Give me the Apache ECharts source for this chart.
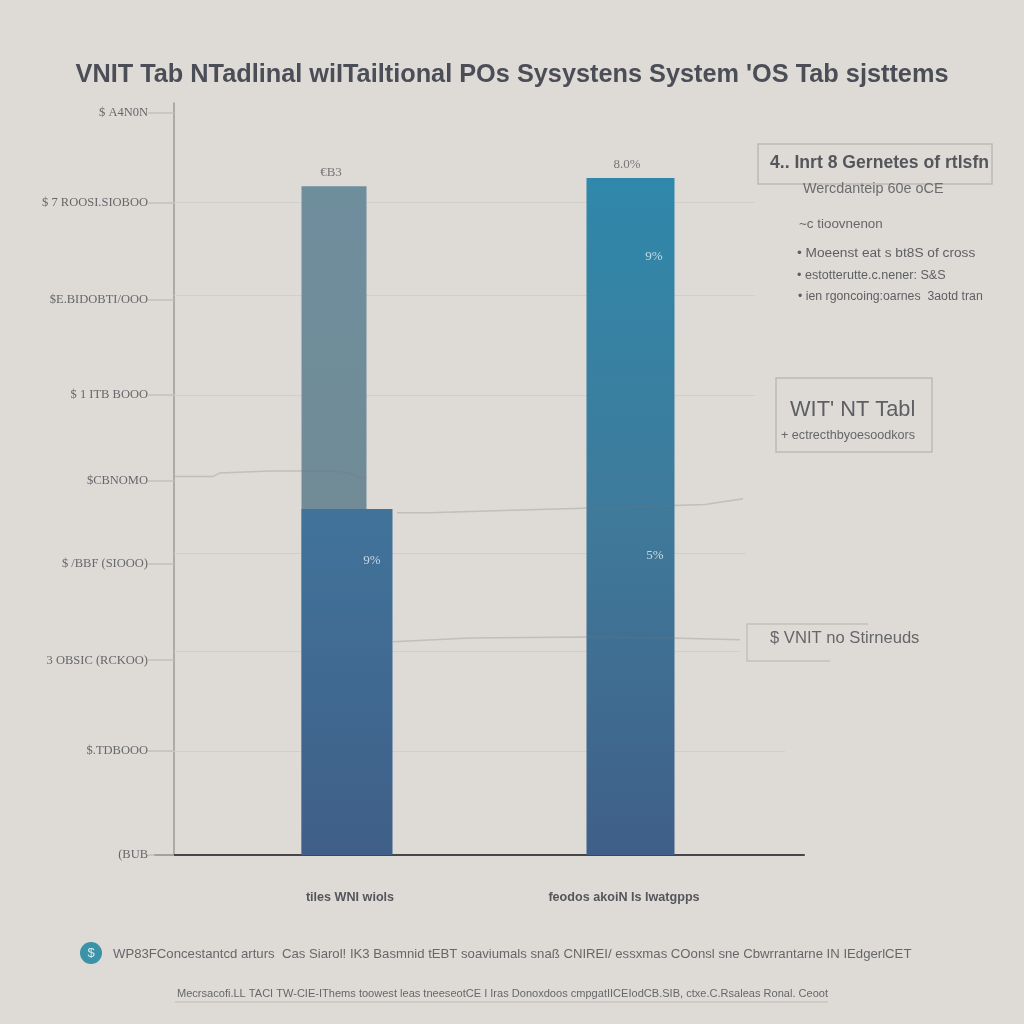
<!DOCTYPE html>
<html>
<head>
<meta charset="utf-8">
<style>html,body{margin:0;padding:0;background:#dedbd6}#c{width:1024px;height:1024px}</style>
<script src="https://cdn.jsdelivr.net/npm/echarts@6/dist/echarts.min.js"></script>
</head>
<body>
<div id="c"></div>
<script>
const chartTitle = "VNIT Tab NTadlinal wiITailtional POs Sysystens System 'OS Tab sjsttems";
const tickValues = [0, 1.12, 2.10, 3.14, 4.04, 4.96, 5.99, 7.03, 8.00];
const tickLabels = ["(BUB", "$.TDBOOO", "3 OBSIC (RCKOO)", "$ /BBF (SIOOO)", "$CBNOMO", "$ 1 ITB BOOO", "$E.BIDOBTI/OOO", "$ 7 ROOSI.SIOBOO", "$ A4N0N"];
const categoryPositions = [176, 450];
const categoryLabels = ["tiles WNI wiols", "feodos akoiN Is lwatgpps"];
const grayBar = [[173, 7.21]];
const blueBar = [[173, 3.73]];
const tealBar = [[458, 7.30]];
const gridValues = [7.04, 6.03, 4.96, 3.25, 2.20, 1.12];
const gridEnds = [581, 581, 581, 572, 566, 611];
const trendA = [[1, 4.08], [39, 4.08], [46, 4.12], [96, 4.14], [156, 4.14], [171, 4.13], [191, 4.06]];
const trendB = [[223, 3.69], [256, 3.69], [346, 3.72], [446, 3.75], [531, 3.78], [569, 3.84]];
const trendC = [[219, 2.30], [296, 2.34], [416, 2.35], [496, 2.34], [566, 2.32]];
const topNotes = [[157, 7.36, "€B3"], [453, 7.44, "8.0%"]];
const insideNotes = [[480, 6.45, "9%"], [198, 3.17, "9%"], [481, 3.23, "5%"]];

const sans = '"Liberation Sans", sans-serif';
const serif = '"Liberation Serif", serif';
const txt = (x, y, text, size, fill, weight, family, align) => ({
  type: 'text', x: x, y: y, silent: true,
  style: { text: text, fontSize: size, fill: fill, fontWeight: weight || 'normal',
    fontFamily: family || sans, textAlign: align || 'left', textVerticalAlign: 'middle' }
});
const box = (x, y, w, h) => ({
  type: 'rect', shape: { x: x, y: y, width: w, height: h }, silent: true,
  style: { fill: 'transparent', stroke: '#bcbab5', lineWidth: 1.5 }
});
const grad = (stops) => ({ type: 'linear', x: 0, y: 0, x2: 0, y2: 1,
  colorStops: stops.map((c, i) => ({ offset: i / (stops.length - 1), color: c })) });
const trend = (data) => ({
  type: 'line', data: data, symbol: 'none', z: 4, silent: true,
  lineStyle: { color: 'rgba(120,120,118,0.28)', width: 1.5 }
});

const chart = echarts.init(document.getElementById('c'), null, { renderer: 'canvas' });
chart.setOption({
  animation: false,
  backgroundColor: '#dedbd6',
  title: {
    text: chartTitle, left: 'center', top: 58,
    textStyle: { fontFamily: sans, fontSize: 25.3, fontWeight: 'bold', color: '#4b4e57' }
  },
  grid: { left: 155, right: 220, top: 103, bottom: 169 },
  xAxis: {
    type: 'value', min: -19, max: 630, splitLine: { show: false },
    axisLine: { lineStyle: { color: '#45454a', width: 2 } },
    axisTick: { show: false },
    axisLabel: {
      customValues: categoryPositions, margin: 36, fontSize: 12.6, fontWeight: 'bold',
      fontFamily: sans, color: '#55565c', showMinLabel: true, showMaxLabel: true,
      formatter: (v) => categoryLabels[categoryPositions.indexOf(v)] || ''
    }
  },
  yAxis: {
    type: 'value', min: 0, max: 8.108, splitLine: { show: false },
    axisLine: { onZero: true, lineStyle: { color: '#9b9b9a', width: 1.5 } },
    axisTick: { length: 26, customValues: tickValues, lineStyle: { color: '#c2c1bd', width: 1.5 } },
    axisLabel: {
      customValues: tickValues, margin: 7, fontSize: 12.5, color: '#66676b', fontFamily: serif,
      formatter: (v) => tickLabels[tickValues.indexOf(v)] || ''
    }
  },
  graphic: { elements: [
    box(758, 144, 234, 40),
    txt(770, 163, "4.. Inrt 8 Gernetes of rtlsfn", 17.6, '#55565c', 'bold'),
    txt(803, 189, "Wercdanteip 60e oCE", 14.4, '#6b6c70'),
    txt(799, 224, "~c tioovnenon", 13.4, '#66676b'),
    txt(797, 253, "• Moeenst eat s bt8S of cross", 13.7, '#5e5f64'),
    txt(797, 276, "• estotterutte.c.nener: S&S", 12.6, '#5e5f64'),
    txt(798, 297, "• ien rgoncoing:oarnes  3aotd tran", 12.3, '#5e5f64'),
    box(776, 378, 156, 74),
    txt(790, 410, "WIT' NT Tabl", 21.8, '#5e5f64'),
    txt(781, 436, "+ ectrecthbyoesoodkors", 12.6, '#66676b'),
    { type: 'polyline', silent: true, shape: { points: [[868, 624], [747, 624], [747, 661], [830, 661]] },
      style: { stroke: '#c3c1bc', lineWidth: 1.5, fill: 'none' } },
    txt(770, 638, "$ VNIT no Stirneuds", 16.6, '#66676b'),
    { type: 'circle', silent: true, shape: { cx: 91, cy: 953, r: 11 }, style: { fill: '#3a93a8' } },
    txt(91, 953, "$", 13, '#dceaec', 'normal', sans, 'center'),
    txt(113, 954, "WP83FConcestantcd arturs  Cas Siarol! IK3 Basmnid tEBT soaviumals snaß CNIREI/ essxmas COonsl sne Cbwrrantarne IN IEdgerlCET", 13.17, '#66676b'),
    txt(177, 994, "Mecrsacofi.LL TACI TW-CIE-IThems toowest leas tneeseotCE I Iras Donoxdoos cmpgatIICEIodCB.SIB, ctxe.C.Rsaleas Ronal. Ceoot", 11.05, '#66676b'),
    { type: 'line', silent: true, shape: { x1: 175, y1: 1002, x2: 828, y2: 1002 }, style: { stroke: '#bdbbb6', lineWidth: 1 } }
  ] },
  series: [
    {
      type: 'line', data: [], z: 1, silent: true,
      markLine: {
        silent: true, symbol: 'none', label: { show: false }, z: 1,
        lineStyle: { color: '#d1cfca', width: 1.2, type: 'solid' },
        data: gridValues.map((v, i) => [{ coord: [0, v] }, { coord: [gridEnds[i], v] }])
      }
    },
    { type: 'bar', data: grayBar, barWidth: 65, barGap: '-100%', z: 2, silent: true,
      itemStyle: { color: grad(['#6f8e9d', '#72898f']) } },
    { type: 'bar', data: tealBar, barWidth: 88, barGap: '-100%', z: 2, silent: true,
      itemStyle: { color: grad(['#2f88aa', '#3f7a9b', '#3f5f88']) } },
    { type: 'bar', data: blueBar, barWidth: 91, barGap: '-100%', z: 3, silent: true,
      itemStyle: { color: grad(['#41739a', '#3f5f88']) } },
    trend(trendA), trend(trendB), trend(trendC),
    { type: 'scatter', symbolSize: 0, z: 6, silent: true, data: topNotes,
      label: { show: true, position: 'inside', formatter: (p) => p.value[2], fontSize: 13,
        fontFamily: serif, color: '#5a5b60' } },
    { type: 'scatter', symbolSize: 0, z: 6, silent: true, data: insideNotes,
      label: { show: true, position: 'inside', formatter: (p) => p.value[2], fontSize: 13,
        fontFamily: serif, color: '#e6eff2' } }
  ]
});
</script>
</body>
</html>
